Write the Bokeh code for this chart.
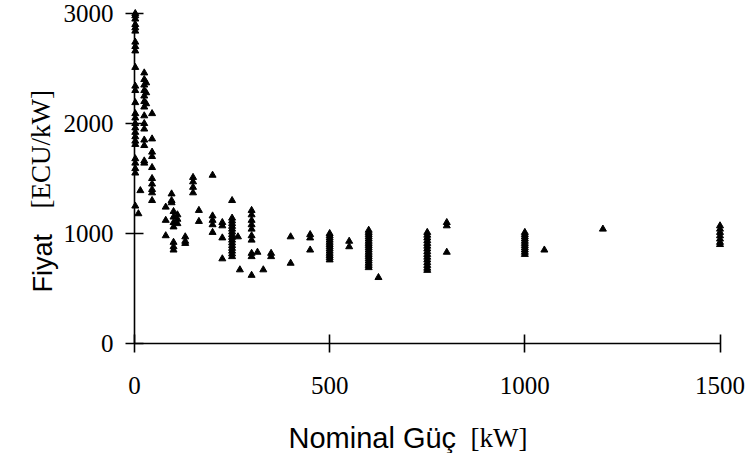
import math
from bokeh.plotting import figure
from bokeh.models import Range1d, FixedTicker, Label
from bokeh.embed import file_html
from bokeh.resources import INLINE

# Nominal power (kW) and price (ECU/kW) of wind turbines
power_kw = (
    [2] * 26 + [10, 15] + [25] * 14 + [30] * 3 + [45] * 10 + [80] * 3 + [95] * 3
    + [100] * 7 + [110] * 3 + [130] * 3 + [150] * 4 + [165] * 2 + [200] * 5
    + [225] * 4 + [250] * 16 + [265, 270] + [300] * 10 + [315, 330] + [350] * 2
    + [400] * 2 + [450] * 3 + [500] * 13 + [550] * 2 + [600] * 18 + [625]
    + [750] * 15 + [800] * 3 + [1000] * 11 + [1050, 1200] + [1500] * 7
)
price_ecu_kw = (
    [3000, 2980, 2950, 2900, 2870, 2840, 2740, 2700, 2660, 2510, 2340, 2300, 2190,
     2090, 2050, 2000, 1960, 1920, 1880, 1840, 1810, 1680, 1640, 1590, 1550, 1250]
    + [1180, 1390]
    + [2460, 2400, 2350, 2300, 2250, 2200, 2150, 2070, 2000, 1950, 1850, 1800, 1660, 1640]
    + [2370, 2280, 2180]
    + [2090, 1860, 1740, 1700, 1600, 1500, 1450, 1400, 1370, 1300]
    + [1240, 1120, 980]
    + [1360, 1300, 1280]
    + [1200, 1150, 1100, 1060, 920, 880, 850]
    + [1170, 1130, 1090]
    + [970, 930, 910]
    + [1510, 1470, 1420, 1370]
    + [1210, 1110]
    + [1530, 1160, 1120, 1080, 1010]
    + [1100, 1070, 960, 770]
    + [1300, 1140, 1115, 1090, 1065, 1040, 1015, 990, 965, 940, 915, 890, 865, 840, 815, 790]
    + [970, 670]
    + [1210, 1170, 1120, 1080, 1040, 980, 940, 820, 790, 620]
    + [830, 670]
    + [820, 790]
    + [970, 730]
    + [990, 960, 850]
    + [1000, 980, 960, 940, 920, 900, 880, 860, 840, 820, 800, 780, 760]
    + [930, 880]
    + [1030, 1010, 990, 970, 950, 930, 910, 890, 870, 850, 830, 810, 790, 770,
       750, 730, 710, 690]
    + [600]
    + [1010, 985, 960, 935, 910, 885, 860, 835, 810, 785, 760, 735, 710, 685, 665]
    + [1100, 1070, 830]
    + [1010, 990, 970, 950, 930, 910, 890, 870, 850, 830, 810]
    + [850, 1040]
    + [1070, 1040, 1010, 980, 950, 920, 900]
)

x_ticks = [0, 500, 1000, 1500]
y_ticks = [0, 1000, 2000, 3000]

x_title = "Nominal Güç"
x_unit = "[kW]"
y_title = "Fiyat"
y_unit = "[ECU/kW]"

W, H = 751, 453
# pixel placement of the axes: x=0 at px 134, x=1500 at px 719.5; y=0 at py 343, y=3000 at py 13
X0, X1 = 134.0, 719.5
Y0, Y1 = 343.0, 13.0
sx = (X1 - X0) / 1500.0
sy = (Y0 - Y1) / 3000.0

def dx(px):
    return (px - X0) / sx

def dy(py):
    return (Y0 - py) / sy

p = figure(width=W, height=H,
           x_range=Range1d(dx(0), dx(W)), y_range=Range1d(dy(H), dy(0)),
           output_backend="svg", toolbar_location=None, min_border=0)
p.outline_line_color = None
p.grid.visible = False
p.background_fill_color = "white"
p.border_fill_color = "white"

p.xaxis.fixed_location = 0
p.yaxis.fixed_location = 0
p.xaxis.bounds = (0, 1500)
p.yaxis.bounds = (0, 3000)
p.xaxis.ticker = FixedTicker(ticks=x_ticks)
p.yaxis.ticker = FixedTicker(ticks=y_ticks)
for ax in (p.xaxis, p.yaxis):
    ax.major_tick_in = 9
    ax.major_tick_out = 9
    ax.minor_tick_in = 0
    ax.minor_tick_out = 0
    ax.axis_line_width = 1.6
    ax.axis_line_color = "black"
    ax.major_tick_line_width = 1.6
    ax.major_tick_line_color = "black"
    ax.major_label_text_font = "Liberation Serif"
    ax.major_label_text_font_size = "25px"
    ax.major_label_text_color = "black"
p.xaxis.major_label_standoff = 24
p.yaxis.major_label_standoff = 12

p.scatter(power_kw, price_ecu_kw, marker="triangle", size=7,
          fill_color="black", line_color="black")

p.add_layout(Label(x=dx(288), y=dy(437), text=x_title, text_font="Liberation Sans",
                   text_font_size="29px", text_color="black",
                   text_align="left", text_baseline="alphabetic"))
p.add_layout(Label(x=dx(470), y=dy(437), text=x_unit, text_font="Liberation Serif",
                   text_font_size="27px", text_color="black",
                   text_align="left", text_baseline="alphabetic"))
p.add_layout(Label(x=dx(42), y=dy(292), text=y_title, text_font="Liberation Sans",
                   text_font_size="27px", text_color="black",
                   angle=math.pi / 2, text_align="left", text_baseline="alphabetic"))
p.add_layout(Label(x=dx(40), y=dy(208), text=y_unit, text_font="Liberation Serif",
                   text_font_size="27px", text_color="black", angle=math.pi / 2,
                   text_align="left", text_baseline="alphabetic"))

open("out.html", "w").write(file_html(p, INLINE))
